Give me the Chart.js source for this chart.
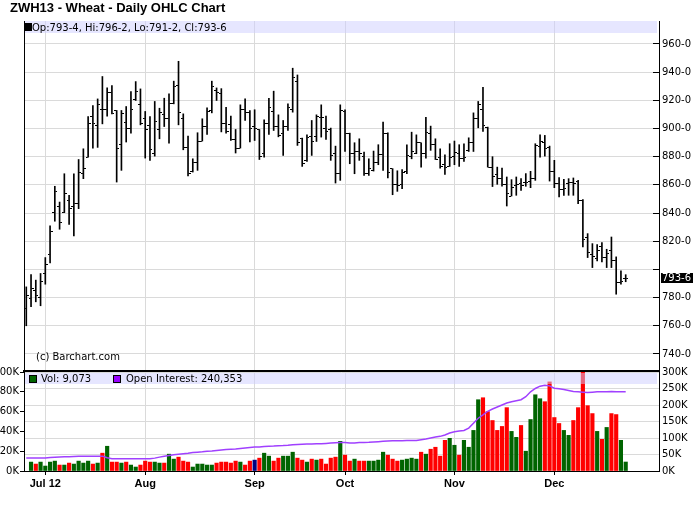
<!DOCTYPE html>
<html>
<head>
<meta charset="utf-8">
<script src="https://cdn.jsdelivr.net/npm/chart.js@4.4.0/dist/chart.umd.min.js"></script>
<style>
  body { margin: 0; background: #fff; }
  #wrap { position: relative; width: 700px; height: 512px; overflow: hidden; }
  canvas { position: absolute; left: 0; }
  #priceCv { top: 0; }
  #volCv { top: 360px; }
  .txt { position: absolute; font: 10px "DejaVu Sans"; line-height: 11px; color: #000; white-space: nowrap; }
  .title { position: absolute; left: 10px; top: 0; font: bold 13px Arial; line-height: 16px; white-space: nowrap; }
  .band { position: absolute; left: 25px; width: 632px; background: rgba(205, 205, 255, 0.5); }
  .sq { position: absolute; width: 6px; height: 6px; border: 1px solid #000; }
</style>
</head>
<body>
<div id="wrap">
  <canvas id="priceCv" width="700" height="372"></canvas>
  <canvas id="volCv" width="700" height="152"></canvas>
  <div class="title">ZWH13 - Wheat - Daily OHLC Chart</div>
  <div class="band" style="top:21px;height:12px"></div>
  <div class="sq" style="left:24px;top:23px;background:#000"></div>
  <div class="txt" id="ohlcText" style="left:32px;top:22px"></div>
  <div class="txt" style="left:36px;top:351px">(c) Barchart.com</div>
  <div class="band" style="top:373px;height:11px"></div>
  <div class="sq" style="left:29px;top:375px;background:#006400"></div>
  <div class="txt" id="volText" style="left:41px;top:373px"></div>
  <div class="sq" style="left:113px;top:375px;background:#9900ff"></div>
  <div class="txt" id="oiText" style="left:126px;top:373px"></div>
</div>
<script>
// ZWH13 daily bars, 26 Jun 2012 - 24 Dec 2012 (index = trading day)
const opens = [772.3, 779.4, 784.8, 780.1, 797.1, 810.6, 840.3, 845, 840.3, 849,
  845, 846.7, 867.9, 879.7, 908.8, 902.2, 913.3, 913.3, 925.3, 912.8,
  888.5, 904, 900.3, 920.3, 916.8, 906.9, 902.2, 882.1, 899.1, 909.7,
  907.4, 917.5, 930.5, 907.4, 886.3, 869.6, 876.2, 891.1, 901.7, 912.8,
  927, 924.6, 903.8, 902.6, 892, 886.1, 913.3, 911.1, 901.7, 899.1,
  882.1, 903.3, 912.1, 901.7, 896.3, 901.7, 913.3, 933.6, 893.2, 877.4,
  894.1, 894.6, 908, 899.8, 899.3, 882.1, 868.4, 912.1, 896.3, 882.6,
  884, 880.4, 868.4, 870.3, 876.2, 881.4, 896.7, 871.5, 860.4, 860.4,
  869.8, 880.4, 882.6, 889.9, 882.1, 896.3, 888.5, 879.7, 874.3, 873.3,
  880.4, 882.6, 878.5, 884.2, 889.9, 907.4, 913.3, 901, 872.6, 867.2,
  864.4, 860.4, 852.1, 859.7, 860.8, 861.6, 862.5, 864.4, 887.3, 890.4,
  886.8, 869.6, 860.8, 856.6, 861.3, 862, 862.5, 849, 823, 810.6,
  807.6, 816, 808.2, 813.1, 806.5, 790.5, 793.5];
const highs = [787.6, 796.4, 792.4, 797.1, 808.4, 830.9, 859, 847.8, 867.9, 852.6,
  867.9, 878, 885.6, 908.5, 916.3, 921, 936.9, 928.8, 930.5, 912.8,
  912.8, 915.6, 926.2, 933.3, 928.1, 912.1, 908.5, 919.2, 914.4, 921.5,
  924.6, 933.6, 947.7, 910.4, 894.6, 878.5, 897, 906.9, 914.7, 933.6,
  928.8, 928.3, 915.1, 908.8, 899.3, 916.8, 921, 912.8, 913.3, 899.3,
  906.2, 921.5, 926.5, 909.7, 905.7, 917.5, 942.8, 938, 893.2, 895.5,
  905.7, 909.7, 916.8, 908.8, 900.3, 887.5, 916.8, 913.3, 896.7, 889.9,
  892.7, 883.3, 878.5, 884, 888.5, 904.5, 897, 871.5, 870, 870.8,
  888.5, 897.4, 895.5, 889.9, 908, 901.7, 892.7, 885.6, 881.4, 889.2,
  891.1, 888.5, 889.2, 893.4, 911.1, 919.2, 929.3, 901, 880, 872.6,
  871.9, 865.6, 863.7, 865.6, 864.4, 868, 869.6, 889.2, 895.5, 895.1,
  887.5, 877.4, 865.1, 863.9, 864.4, 864.9, 863.2, 849.5, 825.4, 818.3,
  817.6, 819.1, 814.3, 823, 808.9, 799, 796.25];
const lows = [760, 773.5, 777, 774.2, 789.5, 804.6, 834.2, 828.5, 840.3, 832,
  823.8, 843.1, 864.4, 879.7, 886.1, 886.6, 903.3, 908.8, 910.4, 862,
  870.3, 890.4, 896.7, 919.9, 902.6, 879, 877.4, 880.4, 892.7, 901.4,
  889.6, 917.5, 902.6, 884.9, 866.3, 869.1, 870.3, 891.1, 895.8, 911.1,
  919.9, 897.6, 896.7, 891.5, 882.6, 886.1, 905.7, 890.4, 891.5, 878,
  879.7, 895.8, 898.6, 894.1, 880.9, 898.6, 911.6, 888, 873.1, 876.7,
  880.9, 890.8, 893.9, 892.2, 877.4, 861.3, 863.2, 883.7, 875, 867.9,
  877.4, 866.7, 866.7, 869.8, 874.3, 870.3, 864.9, 853, 855.4, 857.3,
  867.9, 878.5, 882.1, 872.6, 879, 884.5, 878, 871.9, 867.4, 873.1,
  874.3, 873.1, 876.7, 883.7, 883.7, 900.5, 897.9, 872.6, 858.8, 860.4,
  859, 845, 852.1, 852.6, 856.1, 859, 858, 863.2, 879.7, 880.4,
  862.7, 858, 851.4, 852.6, 852.6, 852.6, 846.6, 816, 808.4, 801.3,
  806, 805.3, 801.3, 801.3, 782.4, 789.5, 791.25];
const closes = [781.3, 786.5, 781.3, 791.2, 803.7, 826.6, 855.6, 833.2, 853.8, 843.1,
  846.7, 869.1, 871.9, 903.8, 903.3, 916.8, 913.3, 925.3, 910.4, 885.6,
  910.4, 900.3, 913.3, 926.5, 903.8, 899.3, 884.9, 905, 911.1, 907.4,
  917.5, 930, 911.1, 886.3, 867.9, 876.2, 891.1, 901.7, 912.3, 930,
  925.3, 903.8, 897.9, 892, 886.1, 913.3, 911.1, 899.8, 899.8, 880.4,
  903.8, 915.1, 901.7, 895.1, 901.7, 914.7, 936.4, 889.9, 875, 893.9,
  891.1, 908.5, 908, 898.1, 880.9, 868.4, 912.8, 896.3, 882.6, 884,
  882.1, 868.4, 871.5, 876.2, 881.4, 896.7, 869.1, 860.4, 859.5, 868.6,
  880.9, 884, 890.4, 882.1, 897.4, 888.5, 878, 873.1, 872.5, 879.7,
  883.3, 878.5, 879.7, 889.9, 907.4, 916.8, 902.2, 872.6, 866, 864.4,
  860.4, 853.8, 858, 860.4, 859.75, 861.5, 864.4, 888, 890.8, 885.6,
  869.6, 861.3, 856.6, 857.5, 861.5, 860.75, 848.6, 821.4, 811.7, 808.9,
  813.6, 808.2, 811.3, 806.5, 790.5, 791.2, 793.75];
const volumes = [null, 9000, 7000, 9000, 5000, 9000, 10000, 6000, 6000, 8000,
  7000, 10000, 8000, 10000, 7000, 8000, 18000, 25000, 9000, 9000,
  8000, 9000, 6000, 4000, 6000, 10000, 9000, 9000, 8000, 8000,
  17000, 12000, 14000, 10000, 9000, 4000, 7000, 7000, 6000, 6000,
  8000, 9000, 9000, 8000, 10000, 9000, 6000, 10000, 11000, 13000,
  18000, 15000, 10000, 13000, 15000, 15000, 19000, 13000, 11000, 9000,
  12000, 11000, 12000, 7000, 13000, 14000, 30000, 16000, 10000, 12000,
  10000, 10000, 10000, 10000, 11000, 19000, 16000, 12000, 10000, 11000,
  12000, 13000, 12000, 19000, 17000, 22000, 24000, 15000, 31000, 33000,
  26000, 16000, 31000, 24000, 41000, 72000, 74000, 60000, 51000, 41000,
  45000, 64000, 40000, 34000, 46000, 20000, 52000, 77000, 73000, 70000,
  90000, 54000, 48000, 41000, 36000, 51000, 64000, 104000, 66000, 58000,
  40000, 32000, 44000, 58000, 57000, 31000, 9073];
const openInterest = [39500, 39500, 39500, 39500, 39500, 41000, 42000, 42500, 43000, 43500,
  44000, 44500, 44500, 45000, 45000, 45000, 45000, 40000, 37500, 37500,
  37500, 37500, 37500, 37500, 37500, 37500, 37500, 39000, 42000, 45000,
  47000, 49000, 51000, 52500, 54000, 56000, 57000, 58000, 59500, 60500,
  62000, 63500, 65000, 66000, 67000, 68500, 70000, 71500, 72600, 73000,
  74000, 75000, 75500, 76500, 77000, 78000, 79500, 80500, 81000, 81500,
  82000, 82500, 82700, 83500, 84500, 85500, 86000, 86700, 85000, 85000,
  86000, 86500, 87000, 88000, 89000, 90000, 91000, 91500, 92000, 92000,
  92500, 92500, 92600, 95000, 97000, 100000, 103000, 105000, 109000, 115000,
  119000, 121000, 123000, 130000, 145000, 160000, 170000, 181000, 188000, 194000,
  200000, 206000, 210000, 213000, 216000, 225000, 240000, 250000, 257000, 260000,
  258000, 251000, 249000, 247000, 244000, 241000, 240000, 239000, 238000, 239000,
  240000, 240000, 240000, 241000, 240000, 240000, 240353];

const monthStarts = [4, 25, 48, 67, 90, 111];
const monthLabels = ['Jul 12', 'Aug', 'Sep', 'Oct', 'Nov', 'Dec'];
const priceTicks = [740, 760, 780, 800, 820, 840, 860, 880, 900, 920, 940, 960];
const volTicks = [0, 20000, 40000, 60000, 80000, 100000];
const oiTicks = [0, 50000, 100000, 150000, 200000, 250000, 300000];

const GRID = '#dadada';
const UP = '#006400', DOWN = '#ff0000', FLAT = '#000080';
const last = closes.length - 1;
const xMin = -0.48, xMax = 133.0;
const priceMin = 727.9, priceMax = 976.3;

function fmtPrice(v) {
    const whole = Math.floor(v + 1e-9);
    return whole + '-' + Math.round((v - whole) * 8);
}
function fmtK(v) {
    return (v / 1000) + 'K';
}

document.getElementById('ohlcText').textContent =
    'Op:' + fmtPrice(opens[last]) + ', Hi:' + fmtPrice(highs[last]) +
    ', Lo:' + fmtPrice(lows[last]) + ', Cl:' + fmtPrice(closes[last]);
document.getElementById('volText').textContent = 'Vol: ' + volumes[last].toLocaleString('en-US');
document.getElementById('oiText').textContent = 'Open Interest: ' + openInterest[last].toLocaleString('en-US');

function tickImage(side) {
    const c = document.createElement('canvas');
    c.width = 5;
    c.height = 1;
    const g = c.getContext('2d');
    g.fillStyle = '#000';
    g.fillRect(side === 'left' ? 0 : 3, 0, 2, 1);
    return c;
}

// keep label overhang from pushing the plot area around
function fixWidth(w) {
    return s => { s.width = w; s.paddingTop = 0; s.paddingBottom = 0; };
}

const lastPriceTag = {
    id: 'lastPriceTag',
    afterDraw(chart) {
        const ctx = chart.ctx;
        const y = Math.round(chart.scales.y.getPixelForValue(closes[last]));
        ctx.save();
        ctx.fillStyle = '#000';
        ctx.fillRect(661, y - 5, 32, 10);
        ctx.fillStyle = '#fff';
        ctx.font = '10px "DejaVu Sans"';
        ctx.textBaseline = 'middle';
        ctx.fillText(fmtPrice(closes[last]), 662, y);
        ctx.restore();
    }
};

const xScale = (showLabels) => ({
    type: 'linear',
    min: xMin,
    max: xMax,
    offset: false,
    afterBuildTicks: s => { s.ticks = monthStarts.map(v => ({ value: v })); },
    afterFit: s => { s.height = showLabels ? 41 : 0; s.paddingLeft = 0; s.paddingRight = 0; },
    ticks: {
        display: showLabels,
        autoSkip: false,
        maxRotation: 0,
        padding: 2,
        color: '#000',
        font: { family: 'Arial', weight: 'bold', size: 11 },
        callback: v => monthLabels[monthStarts.indexOf(v)]
    },
    grid: { color: GRID, offset: false, drawTicks: showLabels, tickLength: 4, tickColor: '#000' },
    border: { color: '#000', width: showLabels ? 1 : 2 }
});

new Chart(document.getElementById('priceCv'), {
    type: 'bar',
    data: {
        datasets: [
            {
                type: 'bar',
                data: highs.map((h, i) => ({ x: i, y: [lows[i], h] })),
                backgroundColor: '#000',
                barThickness: 1,
                order: 2
            },
            {
                type: 'scatter',
                data: opens.map((o, i) => ({ x: i, y: o })),
                pointStyle: tickImage('left'),
                pointRadius: 2,
                order: 1
            },
            {
                type: 'scatter',
                data: closes.map((c, i) => ({ x: i, y: c })),
                pointStyle: tickImage('right'),
                pointRadius: 2,
                order: 1
            }
        ]
    },
    options: {
        responsive: false,
        animation: false,
        events: [],
        layout: { autoPadding: false, padding: { left: 24, top: 21, right: 0, bottom: 1 } },
        plugins: { legend: { display: false }, tooltip: { enabled: false } },
        scales: {
            x: xScale(false),
            y: {
                position: 'right',
                min: priceMin,
                max: priceMax,
                afterBuildTicks: s => { s.ticks = priceTicks.map(v => ({ value: v })); },
                afterFit: fixWidth(41),
                ticks: {
                    padding: 9,
                    color: '#000',
                    font: { family: 'DejaVu Sans', size: 10 },
                    callback: v => Math.abs(v - closes[last]) < 8 ? '' : fmtPrice(v)
                },
                grid: { color: GRID, tickLength: -6, tickColor: '#000' },
                border: { color: '#000' }
            },
            yL: {
                position: 'left',
                min: priceMin,
                max: priceMax,
                afterFit: fixWidth(0),
                ticks: { display: false },
                grid: { drawOnChartArea: false, drawTicks: false },
                border: { color: '#000' }
            }
        }
    },
    plugins: [lastPriceTag]
});

new Chart(document.getElementById('volCv'), {
    type: 'bar',
    data: {
        datasets: [
            {
                type: 'line',
                data: openInterest.map((v, i) => ({ x: i, y: v })),
                yAxisID: 'yOI',
                borderColor: '#a040ff',
                borderWidth: 1.5,
                pointRadius: 0,
                tension: 0,
                order: 1
            },
            {
                type: 'bar',
                data: volumes.map((v, i) => ({ x: i, y: v })),
                yAxisID: 'yVol',
                barThickness: 3.5,
                backgroundColor: ctx => {
                    const i = ctx.dataIndex;
                    if (i === 0) return UP;
                    const d = closes[i] - closes[i - 1];
                    return d > 0 ? UP : (d < 0 ? DOWN : FLAT);
                },
                order: 2
            }
        ]
    },
    options: {
        responsive: false,
        animation: false,
        events: [],
        layout: { autoPadding: false, padding: { left: 0, top: 12, right: 0, bottom: 0 } },
        plugins: { legend: { display: false }, tooltip: { enabled: false } },
        scales: {
            x: xScale(true),
            yVol: {
                position: 'left',
                min: 0,
                max: 100000,
                afterBuildTicks: s => { s.ticks = volTicks.map(v => ({ value: v })); },
                afterFit: fixWidth(24),
                ticks: { padding: 1, color: '#000', font: { family: 'DejaVu Sans', size: 10 }, callback: fmtK },
                grid: { drawOnChartArea: false, tickLength: 4, tickColor: '#000' },
                border: { color: '#000' }
            },
            yOI: {
                position: 'right',
                min: 0,
                max: 300000,
                afterBuildTicks: s => { s.ticks = oiTicks.map(v => ({ value: v })); },
                afterFit: fixWidth(41),
                ticks: { padding: 3, color: '#000', font: { family: 'DejaVu Sans', size: 10 }, callback: fmtK },
                grid: { color: GRID, drawTicks: false },
                border: { color: '#000' }
            }
        }
    }
});
</script>
</body>
</html>
